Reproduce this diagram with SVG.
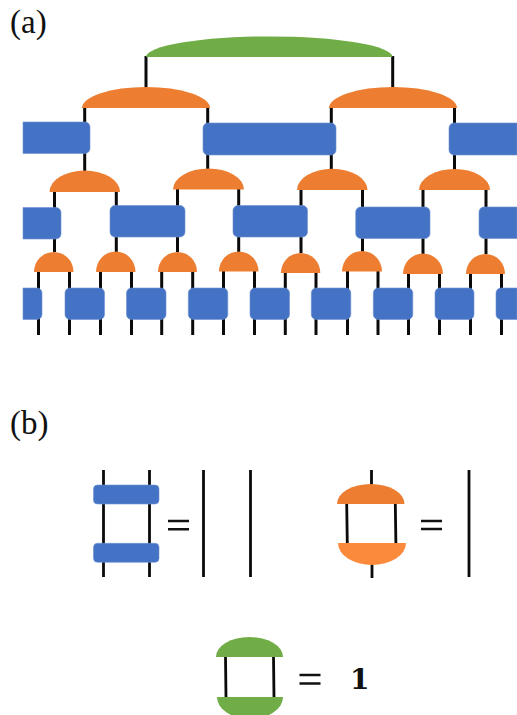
<svg xmlns="http://www.w3.org/2000/svg" width="517" height="715" viewBox="0 0 517 715">
<defs><style>
.w{stroke:#0a0a0a;stroke-width:3;fill:none}
.t{stroke:#0a0a0a;stroke-width:2.8;fill:none}
.eq{stroke:#111;stroke-width:2.4;fill:none}
.b{fill:#4472C4;stroke:#6f92d2;stroke-width:.6}
.o{fill:#ED7D31}
.l{fill:#FB8A3A}
.g{fill:#70AD47}
.lab{font-family:"Liberation Serif",serif;font-size:33px;fill:#111}
.one{font-family:"DejaVu Serif","Liberation Serif",serif;font-weight:bold;font-size:28px;fill:#111}
</style></defs>
<rect width="517" height="715" fill="#fff"/>
<g id="connectors">
<path class="w" d="M146 56V88M392.700 56V88M84.700 107V171M207.700 107V170M331.300 107V170M454.500 107V170"/>
<path class="w" d="M54.500 191V252M116.300 191V252M177.500 188V252M238.700 188V252M301 189V253M362.500 189V252M423 189V254M486 189V254"/>
<path class="w" d="M38.500 271V335M69.500 271V335M100.500 271V335M131.500 271V335M161.700 271V335M192.700 271V335M223.500 271V335M254.500 271V335M285.300 272V335M316 272V335M347.500 271V335M378 271V335M408.500 272V335M439.500 272V335M470.500 273V335M501.500 273V335"/>
<path class="t" d="M103.500 470V577M149.500 470V577M203.500 470V577M250.500 470V577M469 470V577"/>
<path class="t" d="M371.500 470V485M346.700 503L347.300 544M395.300 503L395.900 544M372 564V578"/>
<path class="t" d="M225.500 656L226 698M273.500 656L274 698"/>
</g>
<g id="label-a"><text class="lab" x="10" y="33">(a)</text></g>
<g id="label-b"><text class="lab" x="10" y="434">(b)</text></g>
<g id="top-green"><path class="g" d="M146 57A123 20.500 0 0 1 392.500 57Z"/></g>
<g id="iso-1"><path class="o" d="M82 108A64 21 0 0 1 210 108Z"/></g>
<g id="iso-2"><path class="o" d="M329 108A64 21 0 0 1 457 108Z"/></g>
<g id="dis-1-1"><path class="b" d="M23 122H85a5 5 0 0 1 5 5V148.500a5 5 0 0 1-5 5H23Z"/></g>
<g id="dis-1-2"><rect class="b" x="203" y="123" width="133" height="32" rx="5"/></g>
<g id="dis-1-3"><path class="b" d="M517 123H454a5 5 0 0 0-5 5V150a5 5 0 0 0 5 5H517Z"/></g>
<g id="iso-3"><path class="o" d="M49.500 192A35.250 21.500 0 0 1 120 192Z"/></g>
<g id="iso-4"><path class="o" d="M173 189.500A35.500 21 0 0 1 244 189.500Z"/></g>
<g id="iso-5"><path class="o" d="M297 190A35 21 0 0 1 367.500 190Z"/></g>
<g id="iso-6"><path class="o" d="M419 190A35.500 21 0 0 1 490 190Z"/></g>
<g id="dis-2-1"><path class="b" d="M23 207.500H56a5 5 0 0 1 5 5V234a5 5 0 0 1-5 5H23Z"/></g>
<g id="dis-2-2"><rect class="b" x="110" y="205.500" width="75" height="31.500" rx="5"/></g>
<g id="dis-2-3"><rect class="b" x="233" y="205.500" width="74.500" height="31.500" rx="5"/></g>
<g id="dis-2-4"><rect class="b" x="355.700" y="207" width="74.300" height="31.500" rx="5"/></g>
<g id="dis-2-5"><path class="b" d="M517 207H484a5 5 0 0 0-5 5V233.500a5 5 0 0 0 5 5H517Z"/></g>
<g id="iso-7"><path class="o" d="M34 272A19.750 20 0 0 1 73.500 272Z"/></g>
<g id="iso-8"><path class="o" d="M96 272A19.750 20.500 0 0 1 135.500 272Z"/></g>
<g id="iso-9"><path class="o" d="M158 272A19.500 20 0 0 1 197 272Z"/></g>
<g id="iso-10"><path class="o" d="M219 271.500A19.750 20 0 0 1 258.500 271.500Z"/></g>
<g id="iso-11"><path class="o" d="M281 273A19.650 20 0 0 1 320.300 273Z"/></g>
<g id="iso-12"><path class="o" d="M342 271.500A20 20.500 0 0 1 382 271.500Z"/></g>
<g id="iso-13"><path class="o" d="M403 274A20 20.500 0 0 1 443 274Z"/></g>
<g id="iso-14"><path class="o" d="M466 274A19.500 20 0 0 1 505 274Z"/></g>
<g id="dis-3-1"><path class="b" d="M23 288H37a5 5 0 0 1 5 5V314.500a5 5 0 0 1-5 5H23Z"/></g>
<g id="dis-3-2"><rect class="b" x="65" y="288" width="39.500" height="31.500" rx="5"/></g>
<g id="dis-3-3"><rect class="b" x="126.500" y="288" width="39.500" height="31.500" rx="5"/></g>
<g id="dis-3-4"><rect class="b" x="188.300" y="288" width="39.500" height="31.500" rx="5"/></g>
<g id="dis-3-5"><rect class="b" x="250" y="288" width="39.500" height="31.500" rx="5"/></g>
<g id="dis-3-6"><rect class="b" x="311.300" y="288" width="39.500" height="31.500" rx="5"/></g>
<g id="dis-3-7"><rect class="b" x="373.300" y="288" width="39.500" height="31.500" rx="5"/></g>
<g id="dis-3-8"><rect class="b" x="435" y="288" width="39" height="31.500" rx="5"/></g>
<g id="dis-3-9"><path class="b" d="M517 288H501a5 5 0 0 0-5 5V314.500a5 5 0 0 0 5 5H517Z"/></g>
<g id="eq-blue">
<rect class="b" x="93.500" y="485" width="65.500" height="19" rx="4"/>
<rect class="b" x="93.500" y="543.300" width="65.500" height="19" rx="4"/>
<path class="eq" d="M168 521H189M168 529.300H189"/>
</g>
<g id="eq-orange">
<path class="o" d="M337 504A33.750 20 0 0 1 404.500 504Z"/>
<path class="l" d="M338 543A34 22 0 0 0 406 543Z"/>
<path class="eq" d="M421 521H442M421 529H442"/>
</g>
<g id="eq-green">
<path class="g" d="M216 657A33.500 20 0 0 1 283 657Z"/>
<path class="g" d="M217 697A33 22 0 0 0 283 697V697Z"/>
<path class="eq" d="M299.500 675H320.500M299.500 683.500H320.500"/>
<text class="one" x="350" y="689">1</text>
</g>
</svg>
